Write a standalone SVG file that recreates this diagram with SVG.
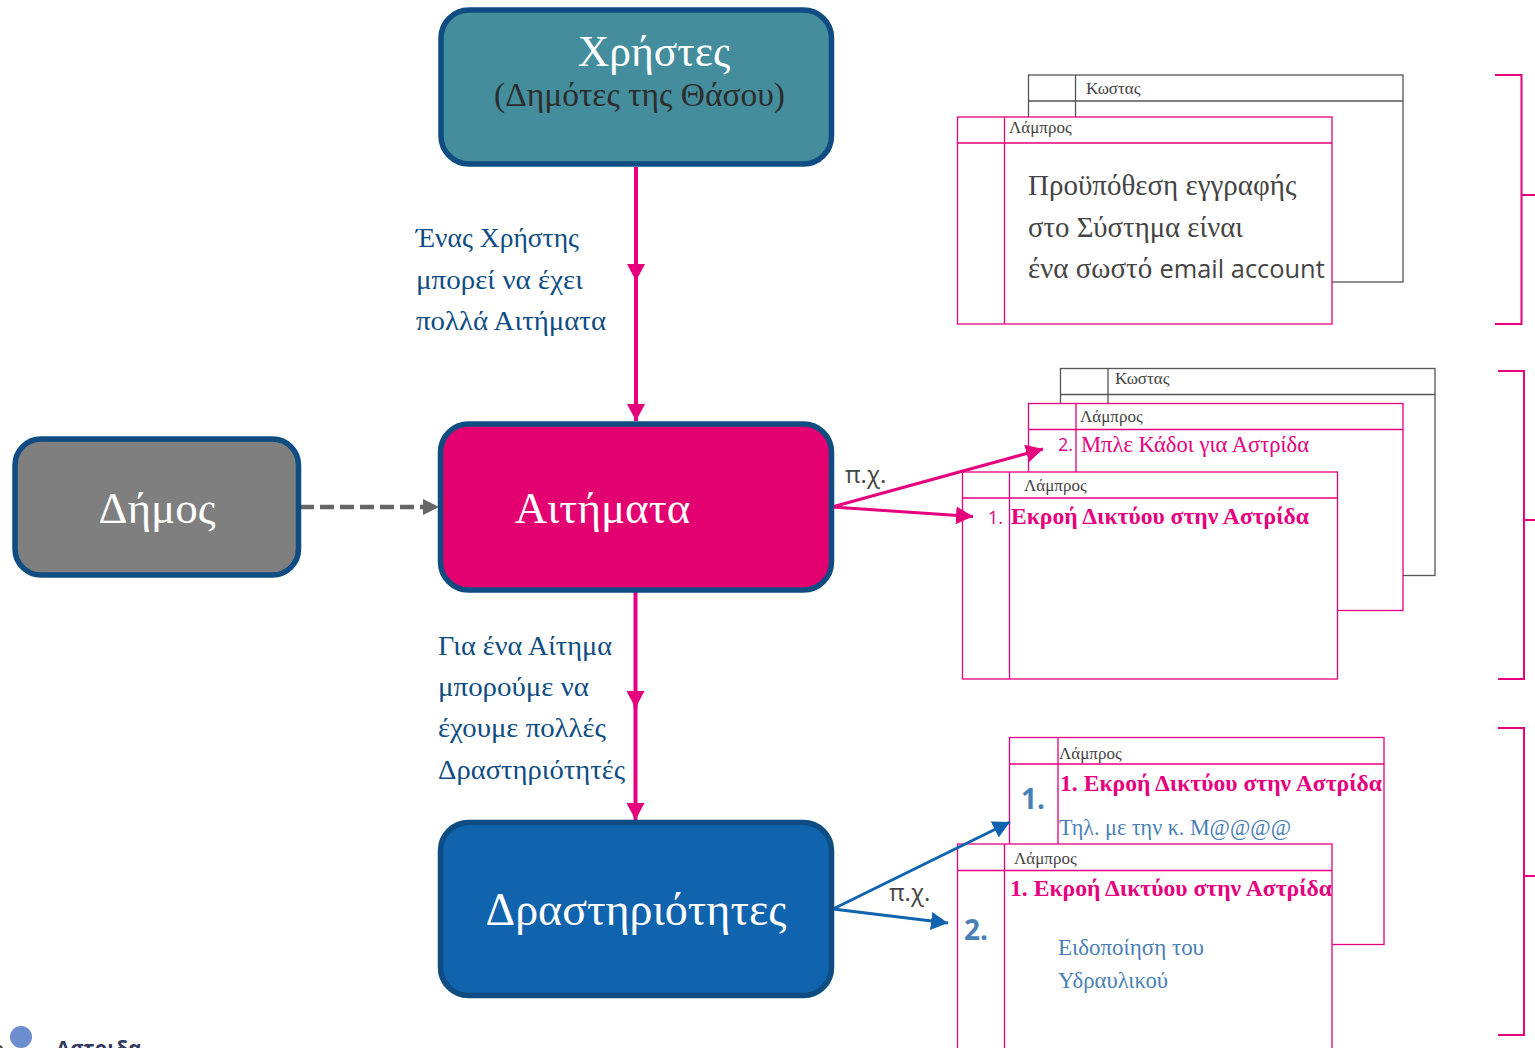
<svg xmlns="http://www.w3.org/2000/svg" width="1535" height="1048" viewBox="0 0 1535 1048">
<style>
.node{stroke:#0e4c82;stroke-width:5.5}
.s{font-family:"Liberation Serif","DejaVu Serif",serif}
.n{font-family:"Open Sans","Noto Sans",sans-serif}
.w{fill:#fff}
.lb{fill:#0e4c82;font-size:27.500px}
.gt{fill:none;stroke:#555;stroke-width:1.3}
.pt{fill:#fff;stroke:#e6007e;stroke-width:1.3}
.small{fill:#444;font-size:17px}
.ph{fill:#e6007e;font-size:24px}
.pb{fill:#e6007e;font-size:24px;font-weight:700}
.bl{fill:#4a7fb5;font-size:24px}
.num{fill:#4a7fb5;font-size:28px;font-weight:700}
.body{fill:#444;font-size:29px}
.px{fill:#444;font-size:24px}
.c{fill:none;stroke:#e6007e;stroke-width:4}
.br{fill:none;stroke:#e6007e;stroke-width:2}
</style>
<defs>
<marker id="ap" markerUnits="userSpaceOnUse" markerWidth="20" markerHeight="18" refX="17" refY="9" orient="auto"><path d="M0 0L17 9L0 18Z" fill="#e6007e"/></marker>
<marker id="ab" markerUnits="userSpaceOnUse" markerWidth="20" markerHeight="20" refX="17" refY="9" orient="auto"><path d="M0 0L17 9L0 18Z" fill="#1063ad"/></marker>
<marker id="ag" markerUnits="userSpaceOnUse" markerWidth="18" markerHeight="16" refX="16" refY="8" orient="auto"><path d="M0 0L16 8L0 16Z" fill="#666"/></marker>
</defs>
<g id="table-1-back"><rect class="gt" x="1028.500" y="75" width="374.500" height="207"/><path class="gt" d="M1028.500 101H1403M1075.500 75V282"/><text class="s small" x="1086" y="94">Κωστας</text></g>
<g id="table-1-front"><rect class="pt" x="957.500" y="117" width="374.500" height="207"/><path class="pt" d="M957.500 143H1332M1004.500 117V324"/><text class="s small" x="1009" y="133">Λάμπρος</text>
<text class="s body" x="1028" y="195">Προϋπόθεση εγγραφής</text><text class="s body" x="1028" y="237" textLength="215" lengthAdjust="spacingAndGlyphs">στο Σύστημα είναι</text><text class="s body" x="1028" y="278">ένα σωστό <tspan class="n" font-size="25.400">email account</tspan></text></g>
<g id="table-2-back"><rect class="gt" x="1060.500" y="368.500" width="374.500" height="207"/><path class="gt" d="M1060.500 394.500H1435M1108 368.500V575.500"/><text class="s small" x="1115" y="384">Κωστας</text></g>
<g id="table-2-mid"><rect class="pt" x="1028.500" y="403.500" width="374.500" height="207"/><path class="pt" d="M1028.500 429.500H1403M1076 403.500V610.500"/><text class="s small" x="1080" y="422">Λάμπρος</text><text class="n" x="1058" y="451" font-size="18" fill="#e6007e">2.</text><text class="s ph" x="1081" y="452" textLength="228" lengthAdjust="spacingAndGlyphs">Μπλε Κάδοι για Αστρίδα</text></g>
<g id="table-2-front"><rect class="pt" x="962.500" y="472" width="375" height="207"/><path class="pt" d="M962.500 498H1337.500M1009.500 472V679"/><text class="s small" x="1024" y="491">Λάμπρος</text><text class="n" x="988" y="524" font-size="18" fill="#e6007e">1.</text><text class="s pb" x="1011" y="524" textLength="298" lengthAdjust="spacingAndGlyphs">Εκροή Δικτύου στην Αστρίδα</text></g>
<g id="table-3-back"><rect class="pt" x="1009.500" y="737.500" width="374.500" height="207"/><path class="pt" d="M1009.500 764H1384M1058 737.500V944.500"/><text class="s small" x="1059" y="759">Λάμπρος</text><text class="n num" x="1021" y="809">1.</text><text class="s pb" x="1060" y="791" textLength="322" lengthAdjust="spacingAndGlyphs">1. Εκροή Δικτύου στην Αστρίδα</text><text class="s bl" x="1059" y="835" textLength="232" lengthAdjust="spacingAndGlyphs">Τηλ. με την κ. Μ@@@@</text></g>
<g id="table-3-front"><rect class="pt" x="957.500" y="844" width="374.500" height="207"/><path class="pt" d="M957.500 870.500H1332M1004.500 844V1051"/><text class="s small" x="1014" y="864">Λάμπρος</text><text class="n num" x="964" y="940">2.</text><text class="s pb" x="1010" y="896" textLength="322" lengthAdjust="spacingAndGlyphs">1. Εκροή Δικτύου στην Αστρίδα</text><text class="s bl" x="1058" y="955" textLength="146" lengthAdjust="spacingAndGlyphs">Ειδοποίηση του</text><text class="s bl" x="1058" y="988" textLength="110" lengthAdjust="spacingAndGlyphs">Υδραυλικού</text></g>
<g id="connectors">
<path class="c" d="M636 167V281" marker-end="url(#ap)"/><path class="c" d="M636 270V421" marker-end="url(#ap)"/>
<path class="c" d="M635.500 592V708" marker-end="url(#ap)"/><path class="c" d="M635.500 700V820" marker-end="url(#ap)"/>
<path d="M300 507H439" fill="none" stroke="#666" stroke-width="4.500" stroke-dasharray="14 6" marker-end="url(#ag)"/>
<path d="M832 507L1043 449" fill="none" stroke="#e6007e" stroke-width="3" marker-end="url(#ap)"/><path d="M832 507L973 516.500" fill="none" stroke="#e6007e" stroke-width="3" marker-end="url(#ap)"/>
<path d="M833 909L1010 822" fill="none" stroke="#1063ad" stroke-width="3" marker-end="url(#ab)"/><path d="M833 909L948 923" fill="none" stroke="#1063ad" stroke-width="3" marker-end="url(#ab)"/>
</g>
<g id="users"><rect class="node" x="441" y="10" width="390.500" height="154" rx="28" fill="#438d9c"/><text class="s w" x="654" y="66" font-size="43.500" text-anchor="middle">Χρήστες</text><text class="s" x="639.500" y="106" font-size="33.500" fill="#2d2d2d" text-anchor="middle">(Δημότες της Θάσου)</text></g>
<g id="requests"><rect class="node" x="440.500" y="424" width="391" height="166" rx="28" fill="#e30071"/><text class="s w" x="602.500" y="523" font-size="45" text-anchor="middle">Αιτήματα</text></g>
<g id="municipality"><rect class="node" x="15" y="439" width="283.500" height="136" rx="26" fill="#7f7f7f"/><text class="s w" x="157" y="523" font-size="45" text-anchor="middle">Δήμος</text></g>
<g id="activities"><rect class="node" x="440.500" y="822.500" width="391" height="173" rx="28" fill="#1063ad"/><text class="s w" x="636" y="925" font-size="46" text-anchor="middle">Δραστηριότητες</text></g>
<g id="labels" class="s lb">
<text x="416" y="247" textLength="163" lengthAdjust="spacingAndGlyphs">Ένας Χρήστης</text><text x="416" y="289" textLength="167" lengthAdjust="spacingAndGlyphs">μπορεί να έχει</text><text x="416" y="330" textLength="190" lengthAdjust="spacingAndGlyphs">πολλά Αιτήματα</text>
<text x="438" y="655" textLength="174" lengthAdjust="spacingAndGlyphs">Για ένα Αίτημα</text><text x="438" y="696" textLength="151" lengthAdjust="spacingAndGlyphs">μπορούμε να</text><text x="438" y="737" textLength="168" lengthAdjust="spacingAndGlyphs">έχουμε πολλές</text><text x="438" y="779" textLength="187" lengthAdjust="spacingAndGlyphs">Δραστηριότητές</text>
<text class="n" x="845" y="483" style="fill:#444;font-size:24px">π.χ.</text><text class="n" x="889" y="901" style="fill:#444;font-size:24px">π.χ.</text>
</g>
<g id="brackets"><path class="br" d="M1495 75H1521.500V324H1495M1521.500 195H1535"/><path class="br" d="M1498 371H1524V679H1498M1524 520H1535"/><path class="br" d="M1498 728H1524V1035H1498M1524 876H1535"/></g>
<g id="logo"><circle cx="21" cy="1037" r="11" fill="#6d8fcf"/><circle cx="-1" cy="1049" r="4" fill="#555"/><text class="n" x="56" y="1056" font-size="20.500" font-weight="700" fill="#33395e">Αστριδα</text></g>
</svg>
